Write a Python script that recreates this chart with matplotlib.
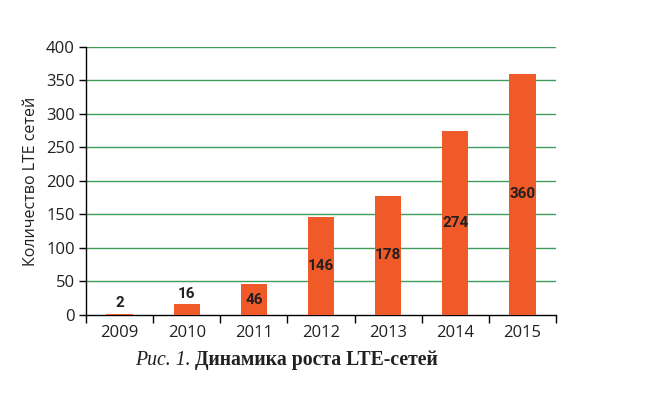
import numpy as np
import matplotlib.pyplot as plt
from matplotlib.ticker import FixedLocator

years = ["2009", "2010", "2011", "2012", "2013", "2014", "2015"]
counts = [2, 16, 46, 146, 178, 274, 360]
yticks = [0, 50, 100, 150, 200, 250, 300, 350, 400]

BAR = "#f05a28"
GRID = "#3f9e5c"
TXT = "#231f20"

plt.rcParams['font.family'] = ['Open Sans', 'DejaVu Sans']

fig = plt.figure(figsize=(6.53, 3.93), dpi=100)
ax = fig.add_axes([0.1317, 0.1985, 0.7198, 0.682])

x = np.arange(len(years))
ax.bar(x, counts, width=0.39, color=BAR, zorder=3)

for xi, v in zip(x, counts):
    y = v + 16 if v < 30 else v / 2
    ax.text(xi, y, str(v), ha="center", va="center", fontsize=11,
            fontweight="bold", family="Roboto", color=TXT, zorder=4)

ax.set_xlim(-0.5, len(years) - 0.5)
ax.set_ylim(0, 400)
ax.set_yticks(yticks)
ax.set_yticklabels([str(t) for t in yticks], fontsize=12, color=TXT)
ax.set_xticks(x)
ax.set_xticklabels(years, fontsize=12, color=TXT)
ax.tick_params(axis="x", which="major", length=0, pad=7)
ax.xaxis.set_minor_locator(FixedLocator(np.arange(len(years) + 1) - 0.5))
ax.tick_params(axis="x", which="minor", length=6, width=1, color="black")
ax.tick_params(axis="y", length=5, width=1, color="black", pad=3)

for t in yticks[1:]:
    ax.axhline(t, color=GRID, lw=1.0, zorder=1)

for s in ["top", "right"]:
    ax.spines[s].set_visible(False)
for s in ["left", "bottom"]:
    ax.spines[s].set_color("black")
    ax.spines[s].set_linewidth(1)

ax.set_ylabel("Количество LTE сетей", fontsize=11.5, color=TXT, labelpad=5)

fig.text(0.292, 0.083, "Рис. 1.", fontsize=14.2, family="Liberation Serif",
         style="italic", color=TXT, ha="right", va="center")
fig.text(0.299, 0.083, "Динамика роста LTE-сетей", fontsize=14.2,
         family="Liberation Serif", fontweight="bold", color=TXT, ha="left", va="center")

fig.savefig("out.png", dpi=100)
